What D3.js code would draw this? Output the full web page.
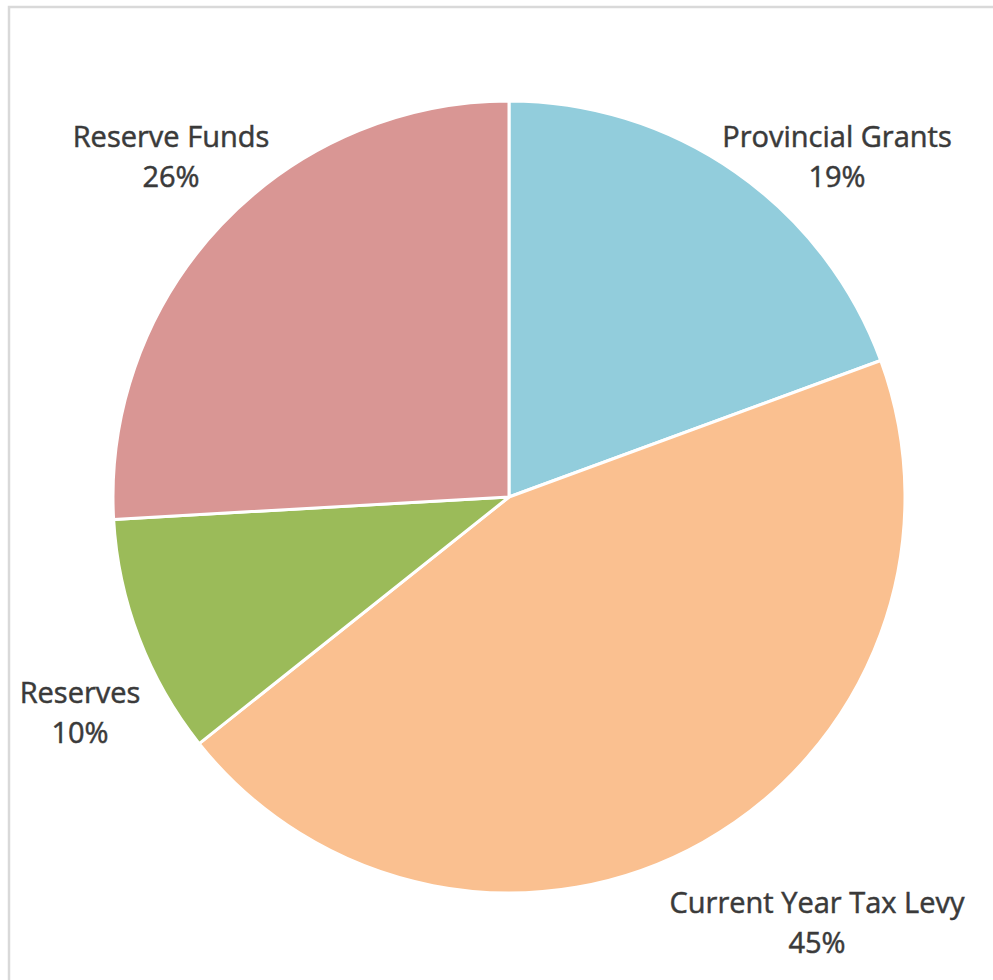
<!DOCTYPE html>
<html><head><meta charset="utf-8">
<script src="https://cdn.jsdelivr.net/npm/d3@7"></script>
<style>html,body{margin:0;padding:0;background:#fff;}svg{display:block;}</style>
</head><body>
<svg id="chart" width="993" height="980"></svg>
<script>
const categories = ["Provincial Grants", "Current Year Tax Levy", "Reserves", "Reserve Funds"];
const values = [19.4, 44.9, 9.8, 25.9];
const colors = ["#92CDDC", "#FAC090", "#9BBB59", "#D99694"];
// label anchor positions (center of two-line label)
const labelX = [837, 817, 80, 171];
const labelY = [137, 903, 693, 137];

const svg = d3.select("#chart");
// frame
svg.append("rect").attr("x", 9).attr("y", 7).attr("width", 1000).attr("height", 1000)
  .attr("fill", "#fff").attr("stroke", "#d9d9d9").attr("stroke-width", 2.5);

const cx = 509, cy = 497, r = 396;
const total = d3.sum(values);
const pie = d3.pie().sort(null).value(d => d)(values);
const arc = d3.arc().innerRadius(0).outerRadius(r);

const g = svg.append("g").attr("transform", `translate(${cx},${cy})`);
g.selectAll("path").data(pie).join("path")
  .attr("d", arc)
  .attr("fill", (d, i) => colors[i])
  .attr("stroke", "#fff").attr("stroke-width", 3).attr("stroke-linejoin", "round");

const labels = svg.append("g").attr("font-family", "'Open Sans', Lato, sans-serif")
  .attr("font-size", 29).attr("fill", "#3a3a3a").attr("text-anchor", "middle")
  .attr("stroke", "#3a3a3a").attr("stroke-width", 0.5);
categories.forEach((c, i) => {
  const t = labels.append("text").attr("x", labelX[i]).attr("y", labelY[i]);
  t.append("tspan").attr("x", labelX[i]).attr("dy", "0.35em").text(c);
  t.append("tspan").attr("x", labelX[i]).attr("dy", 40).text(Math.round(values[i] / total * 100) + "%");
});
</script>
</body></html>
